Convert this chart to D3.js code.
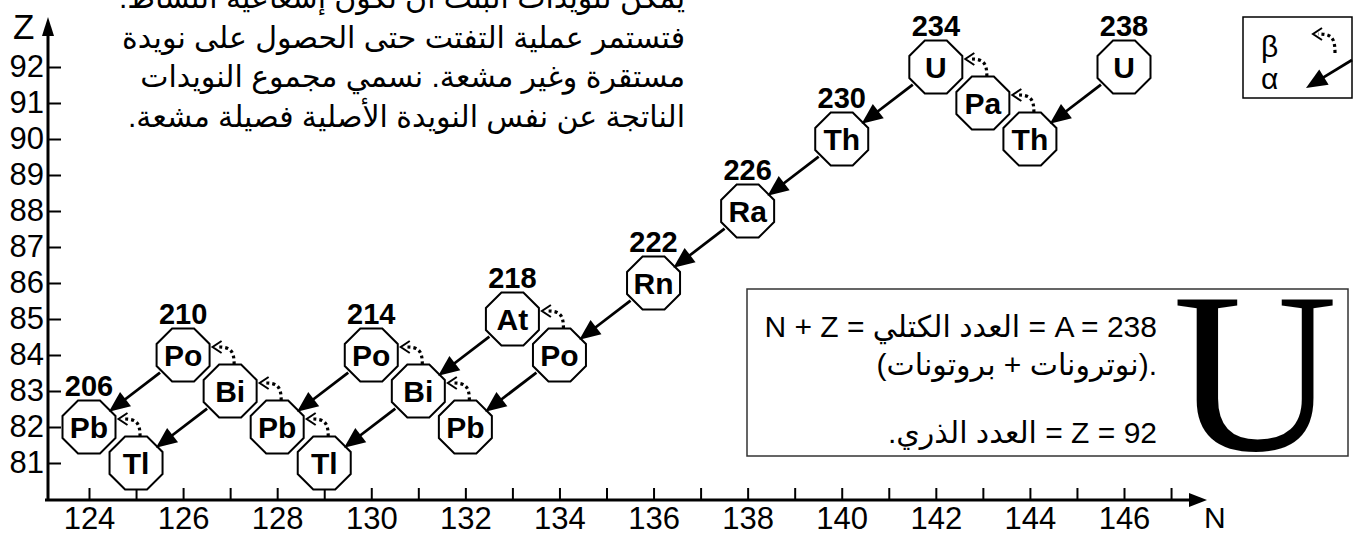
<!DOCTYPE html>
<html><head><meta charset="utf-8">
<script src="https://cdn.jsdelivr.net/npm/d3@7"></script>
<style>
html,body{margin:0;padding:0;background:#fff;}
svg{display:block;}
text{font-family:"Liberation Sans",Arial,"DejaVu Sans",sans-serif;fill:#000;}
</style></head>
<body>
<svg id="chart" width="1368" height="535"></svg>
<script>
// ---- data ----
const nTickValues = d3.range(124, 148);          // neutron number ticks
const nTickLabels = [124,126,128,130,132,134,136,138,140,142,144,146];
const zTickValues = d3.range(81, 93);            // atomic number ticks
const symbols = ["U","Th","Pa","U","Th","Ra","Rn","Po","At","Pb","Bi","Po","Tl","Pb","Bi","Po","Tl","Pb"];
const neutrons = [146,144,143,142,140,138,136,134,133,132,131,130,129,128,127,126,125,124];
const protons  = [ 92, 90, 91, 92, 90, 88, 86, 84, 85, 82, 83, 84, 81, 82, 83, 84, 81, 82];
const massLabels = ["238",null,null,"234","230","226","222",null,"218",null,null,"214",null,null,null,"210",null,"206"];
// decays as [parent index, daughter index]
const alphaDecays = [[0,1],[3,4],[4,5],[5,6],[6,7],[8,10],[7,9],[11,13],[10,12],[15,17],[14,16]];
const betaDecays  = [[1,2],[2,3],[7,8],[9,10],[10,11],[12,13],[13,14],[14,15],[16,17]];
const introLines = [
  "يمكن لنويدات البنت أن تكون إشعاعية النشاط.",
  "فتستمر عملية التفتت حتى الحصول على نويدة",
  "مستقرة وغير مشعة. نسمي مجموع النويدات",
  "الناتجة عن نفس النويدة الأصلية فصيلة مشعة."
];
const boxLines = ["N + Z = العدد الكتلي = A = 238", "(نوترونات + بروتونات).", ".العدد الذري = Z = 92"];
const legendLabels = ["β","α"];

// ---- drawing ----
const svg = d3.select("#chart");
const x = d3.scaleLinear().domain([124,146]).range([89,1124]);
const y = d3.scaleLinear().domain([81,92]).range([463,67]);
const axisX0 = 48, axisY0 = 500;

// intro text
const intro = svg.append("g");
const introBase = [8, 48, 87, 127];
introLines.forEach((t,i)=>{
  intro.append("text").attr("x",685).attr("y",introBase[i])
    .attr("direction","rtl").attr("text-anchor","start")
    .style("font-size","30px").text(t);
});

// x axis
const gx = svg.append("g").attr("transform",`translate(0,${axisY0})`)
  .call(d3.axisBottom(x).tickValues(nTickValues).tickSizeInner(-12).tickSizeOuter(0).tickPadding(7)
    .tickFormat(d => nTickLabels.includes(d) ? d : ""));
gx.select(".domain").remove();
gx.selectAll(".tick line").attr("stroke","#000").attr("stroke-width",2);
gx.selectAll(".tick text").style("font-size","31px").style("font-family","Liberation Sans, Arial, sans-serif").attr("fill","#000");

// y axis
const gy = svg.append("g").attr("transform",`translate(${axisX0},0)`)
  .call(d3.axisLeft(y).tickValues(zTickValues).tickSizeInner(-13).tickSizeOuter(0).tickPadding(4).tickFormat(d3.format("d")));
gy.select(".domain").remove();
gy.selectAll(".tick line").attr("stroke","#000").attr("stroke-width",2);
gy.selectAll(".tick text").style("font-size","31px").style("font-family","Liberation Sans, Arial, sans-serif").attr("fill","#000");

// axis lines with arrows
svg.append("line").attr("x1",axisX0-3).attr("y1",axisY0).attr("x2",1192).attr("y2",axisY0).attr("stroke","#000").attr("stroke-width",3);
svg.append("path").attr("d",`M1207,${axisY0} L1189,${axisY0-7} L1189,${axisY0+7} Z`).attr("fill","#000");
svg.append("line").attr("x1",axisX0).attr("y1",axisY0+1).attr("x2",axisX0).attr("y2",32).attr("stroke","#000").attr("stroke-width",3);
svg.append("path").attr("d",`M${axisX0},17 L${axisX0-6},36 L${axisX0+6},36 Z`).attr("fill","#000");
svg.append("text").attr("x",13).attr("y",39).style("font-size","35px").text("Z");
svg.append("text").attr("x",1204).attr("y",528).style("font-size","30px").text("N");

// nodes
const apo = 26.5, Rc = apo/Math.cos(Math.PI/8);
const octPts = d3.range(8).map(k=>{const a=Math.PI/8+k*Math.PI/4;return [Rc*Math.cos(a),Rc*Math.sin(a)];});
const oct = "M"+octPts.map(p=>p.join(",")).join("L")+"Z";
const nodes = svg.append("g");
symbols.forEach((s,i)=>{
  const cx = x(neutrons[i]), cy = y(protons[i]);
  const g = nodes.append("g").attr("transform",`translate(${cx},${cy})`);
  g.append("path").attr("d",oct).attr("fill","#fff").attr("stroke","#000").attr("stroke-width",2);
  g.append("text").attr("text-anchor","middle").attr("dy","0.36em").style("font-size","30px").style("font-weight","bold").text(s);
  if (massLabels[i]) g.append("text").attr("text-anchor","middle").attr("y",-apo-5).style("font-size","29px").style("font-weight","bold").text(massLabels[i]);
});

// arrow helpers
const arrows = svg.append("g");
function alphaArrow(sx,sy,tx,ty){
  const dx=tx-sx, dy=ty-sy, L=Math.hypot(dx,dy), ux=dx/L, uy=dy/L;
  const bx=tx-21*ux, by=ty-21*uy, px=-uy, py=ux;
  arrows.append("line").attr("x1",sx).attr("y1",sy).attr("x2",bx+ux*2).attr("y2",by+uy*2).attr("stroke","#000").attr("stroke-width",2.8);
  arrows.append("path").attr("d",`M${tx},${ty}L${bx+9*px},${by+9*py}L${bx-9*px},${by-9*py}Z`).attr("fill","#000");
}
function betaArrow(sx,sy,ex,ey){
  arrows.append("path").attr("d",`M${sx},${sy}C${sx},${ey+3} ${sx-4},${ey} ${ex+5},${ey}`).attr("fill","none")
    .attr("stroke","#000").attr("stroke-width",3.2).attr("stroke-dasharray","3,3");
  arrows.append("path").attr("d",`M${ex+9},${ey-6}L${ex},${ey}L${ex+9},${ey+6}`).attr("fill","none").attr("stroke","#000").attr("stroke-width",2);
}
alphaDecays.forEach(([a,b])=>{
  const px=x(neutrons[a]), py=y(protons[a]), qx=x(neutrons[b]), qy=y(protons[b]);
  const dx=qx-px, dy=qy-py, L=Math.hypot(dx,dy), ux=dx/L, uy=dy/L;
  alphaArrow(px+29*ux, py+29*uy, qx-25*ux, qy-25*uy);
});
betaDecays.forEach(([a,b])=>{
  const px=x(neutrons[a]), py=y(protons[a]), qx=x(neutrons[b]), qy=y(protons[b]);
  betaArrow(px+4, py-apo, qx+apo+3, qy-8);
});

// legend
svg.append("rect").attr("x",1243).attr("y",17).attr("width",109).attr("height",81).attr("fill","none").attr("stroke","#000").attr("stroke-width",1.5);
svg.append("text").attr("x",1261).attr("y",57).style("font-size","30px").text(legendLabels[0]);
svg.append("text").attr("x",1261).attr("y",89).style("font-size","30px").text(legendLabels[1]);
betaArrow(1335,53,1313,34);
alphaArrow(1352,60,1306,88);

// info box
svg.append("rect").attr("x",747).attr("y",289).attr("width",601).attr("height",167).attr("fill","none").attr("stroke","#333").attr("stroke-width",1.5);
const boxBase=[337,375,443];
boxLines.forEach((t,i)=>{
  svg.append("text").attr("x",1157).attr("y",boxBase[i]).attr("text-anchor","end").attr("direction","ltr")
    .style("font-size","30px").text(t);
});
svg.append("text").attr("x",1255).attr("y",450).attr("text-anchor","middle")
  .style("font-family","Liberation Serif, Times New Roman, serif").style("font-size","228px").text("U");
</script>
</body></html>
